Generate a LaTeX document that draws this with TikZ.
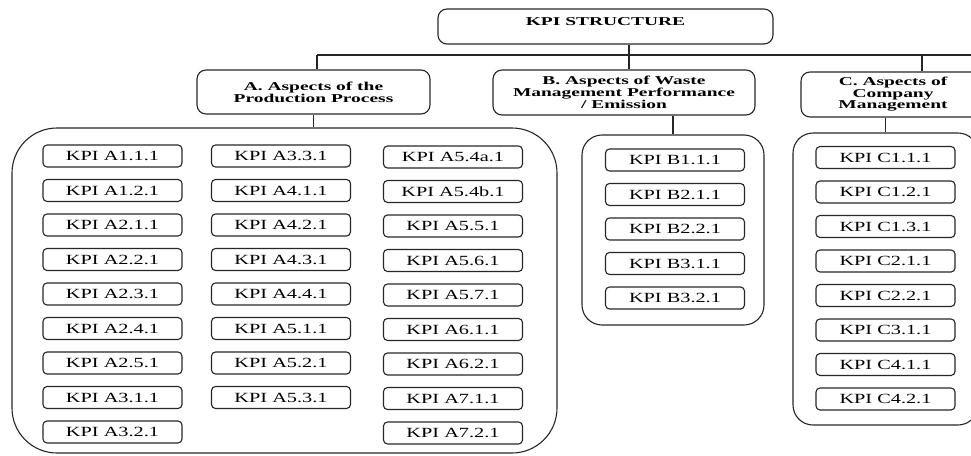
\documentclass[tikz,border=0pt]{standalone}
\usepackage{fontspec}
\setmainfont{Liberation Serif}
\newfontfamily\kpifont[FakeStretch=1.45]{Liberation Serif}
\newfontfamily\hdfont[FakeStretch=1.62]{Liberation Serif}
\begin{document}
\begin{tikzpicture}[x=1pt,y=-1pt,
  line width=1.1pt,
  kpi/.style={draw=black!85, rounded corners=4pt, minimum width=139pt, minimum height=22pt, inner sep=0pt,
    font=\kpifont\fontsize{14}{14}\selectfont},
  head/.style={draw=black!85, rounded corners=9pt, inner sep=0pt, align=center,
    font=\hdfont\bfseries\fontsize{12}{12}\selectfont},
  group/.style={draw=black!85, inner sep=0pt},
  conn/.style={draw=black!85, line width=1.1pt}]
\useasboundingbox (0,0) rectangle (971,455);
\begin{scope}
\clip (0,0) rectangle (971,455);
% header boxes
\node[head, minimum width=335pt, minimum height=35pt, text height=16pt, text depth=19pt] (top) at (605.5,26.5) {KPI STRUCTURE};
\node[head, minimum width=233pt, minimum height=44pt] (A) at (313.5,92) {A. Aspects of the\\Production Process};
\node[head, minimum width=262pt, minimum height=45pt, font=\hdfont\bfseries\fontsize{12}{10.5}\selectfont] (B) at (624,92.5) {B. Aspects of Waste\\Management Performance\\/ Emission};
\node[head, minimum width=184pt, minimum height=45pt, font=\hdfont\bfseries\fontsize{12}{11.5}\selectfont] (C) at (893,94.5) {C. Aspects of\\Company\\Management};
% group containers
\node[group, rounded corners=45pt, minimum width=545pt, minimum height=325pt] (GA) at (284.5,290.5) {};
\node[group, rounded corners=20pt, minimum width=182pt, minimum height=190pt] (GB) at (673,230) {};
\node[group, rounded corners=20pt, minimum width=185pt, minimum height=292pt] (GC) at (885.5,279) {};
% bus
\coordinate (bA) at (317,55);
\coordinate (bB) at (629,55);
\coordinate (bC) at (922,55);
\coordinate (bE) at (975,55);
\draw[conn] (top.south -| bB) -- (bB);
\draw[conn] (bA) -- (bE);
\draw[conn] (bA) -- (bA |- A.north);
\draw[conn] (bB) -- (bB |- B.north);
\draw[conn] (bC) -- (bC |- C.north);
\draw[conn] (A.south) -- (GA.north -| A.south);
\draw[conn] (B.south -| GB.north) -- (GB.north);
\draw[conn] (C.south -| GC.north) -- (GC.north);
% column A1
\foreach \t [count=\i from 0] in {A1.1.1,A1.2.1,A2.1.1,A2.2.1,A2.3.1,A2.4.1,A2.5.1,A3.1.1,A3.2.1}
  \node[kpi] (ka1-\i) at (112.5,156+34.5*\i) {KPI \t};
% column A2
\foreach \t [count=\i from 0] in {A3.3.1,A4.1.1,A4.2.1,A4.3.1,A4.4.1,A5.1.1,A5.2.1,A5.3.1}
  \node[kpi] (ka2-\i) at (281,156+34.5*\i) {KPI \t};
% column A3
\foreach \t [count=\i from 0] in {A5.4a.1,A5.4b.1,A5.5.1,A5.6.1,A5.7.1,A6.1.1,A6.2.1,A7.1.1,A7.2.1}
  \node[kpi] (ka3-\i) at (453,157+34.5*\i) {KPI \t};
% column B
\foreach \t [count=\i from 0] in {B1.1.1,B2.1.1,B2.2.1,B3.1.1,B3.2.1}
  \node[kpi] (kb-\i) at (675,160+34.5*\i) {KPI \t};
% column C
\foreach \t [count=\i from 0] in {C1.1.1,C1.2.1,C1.3.1,C2.1.1,C2.2.1,C3.1.1,C4.1.1,C4.2.1}
  \node[kpi] (kc-\i) at (885.5,157.5+34.5*\i) {KPI \t};
\end{scope}
\end{tikzpicture}
\end{document}
